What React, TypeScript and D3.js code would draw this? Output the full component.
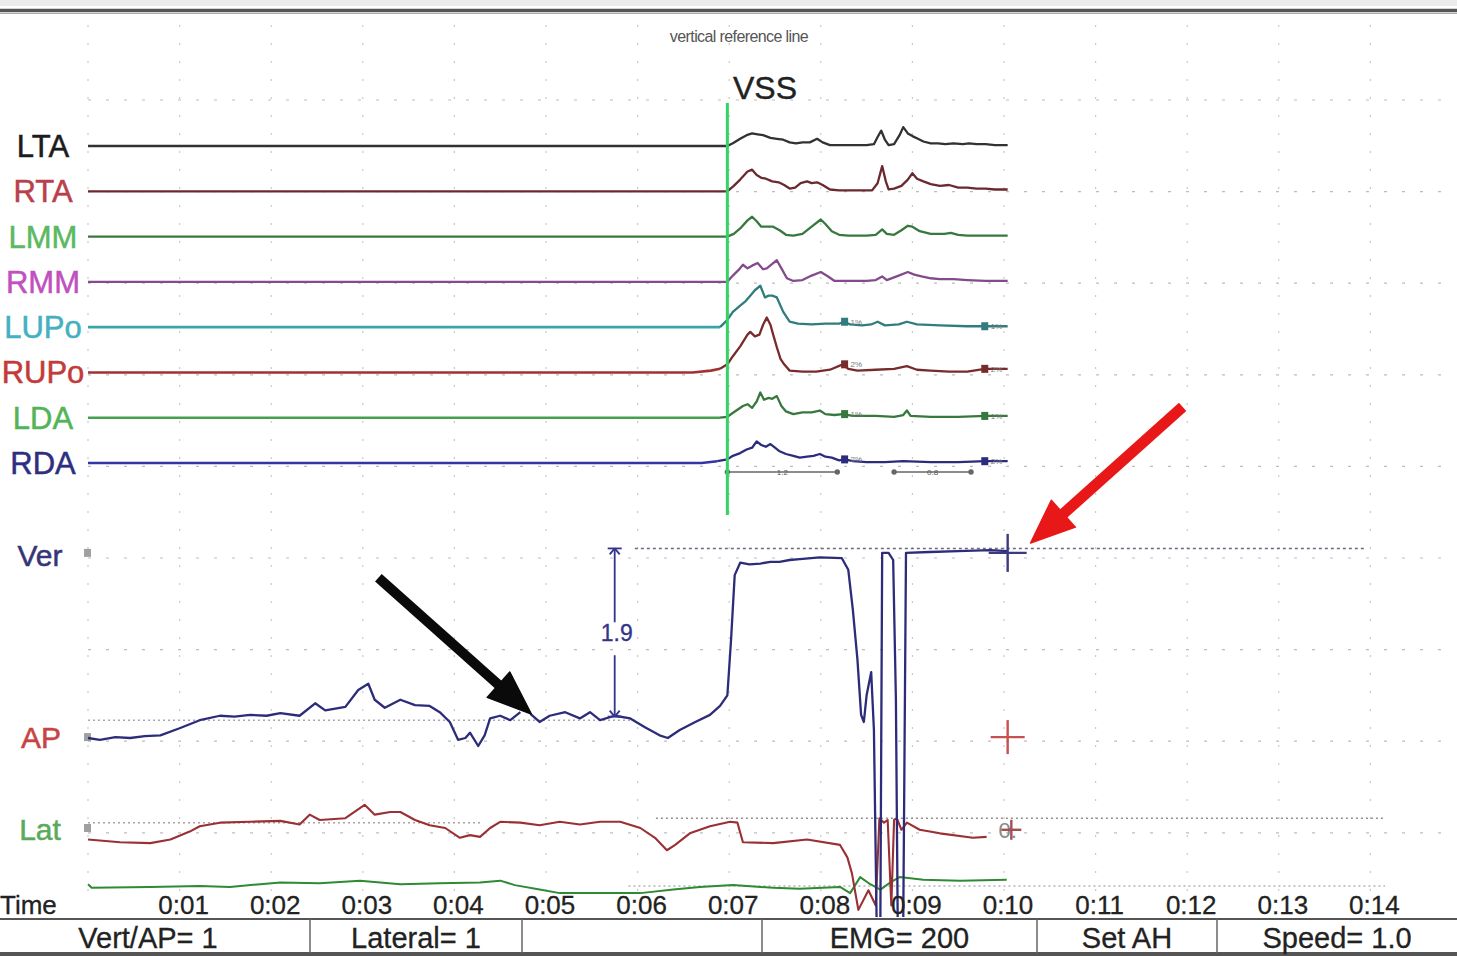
import * as d3 from 'd3';

const TIME_SECONDS = [1, 2, 3, 4, 5, 6, 7, 8, 9, 10, 11, 12, 13, 14];
const TIME_LABELS = ['0:01', '0:02', '0:03', '0:04', '0:05', '0:06', '0:07', '0:08', '0:09', '0:10', '0:11', '0:12', '0:13', '0:14'];
const VSS_T = 6.98;

const EMG_CHANNELS = ['LTA', 'RTA', 'LMM', 'RMM', 'LUPo', 'RUPo', 'LDA', 'RDA'];
const EMG_LINE_COLORS = ['#3c3c3c', '#8c3038', '#45a04e', '#b060bc', '#3aa6aa', '#a23232', '#45a04e', '#3434a6'];
const EMG_LABEL_COLORS = ['#1c1c1c', '#b8404c', '#5cb862', '#c050c0', '#44b0c2', '#c23a3a', '#52b456', '#2e2e80'];

// [seconds, amplitude] -- flat before the listed points
const LTA: [number, number][] = [[0, 0], [6.98, 0], [7.04, 3], [7.12, 8], [7.19, 12], [7.25, 14], [7.31, 13], [7.37, 12], [7.45, 9], [7.52, 8], [7.59, 7], [7.66, 4], [7.73, 3], [7.8, 4], [7.88, 4], [7.96, 8], [8.02, 4], [8.1, 1], [8.2, 1], [8.35, 1], [8.5, 1], [8.58, 2], [8.62, 10], [8.66, 17], [8.7, 7], [8.74, 1], [8.8, 2], [8.86, 12], [8.9, 21], [8.95, 14], [9.0, 11], [9.06, 8], [9.12, 5], [9.2, 3], [9.28, 3], [9.36, 2], [9.45, 3], [9.55, 2], [9.62, 3], [9.7, 2], [9.8, 2], [9.9, 1], [10.04, 1]];
const RTA: [number, number][] = [[0, 0], [6.98, 0], [7.05, 6], [7.12, 13], [7.2, 22], [7.25, 24], [7.3, 18], [7.35, 15], [7.4, 14], [7.47, 11], [7.54, 10], [7.6, 7], [7.66, 3], [7.72, 4], [7.78, 9], [7.85, 11], [7.9, 9], [7.96, 10], [8.02, 7], [8.1, 2], [8.2, 1], [8.4, 1], [8.56, 1], [8.62, 9], [8.67, 28], [8.71, 11], [8.74, 2], [8.8, 3], [8.88, 6], [8.95, 13], [9.0, 20], [9.05, 14], [9.12, 11], [9.2, 8], [9.3, 6], [9.4, 7], [9.5, 4], [9.6, 4], [9.7, 3], [9.8, 3], [9.9, 2], [10.04, 2]];
const LMM: [number, number][] = [[0, 0], [6.98, 0], [7.05, 3], [7.12, 9], [7.2, 18], [7.25, 22], [7.3, 17], [7.35, 11], [7.42, 11], [7.48, 11], [7.55, 7], [7.62, 2], [7.7, 1], [7.8, 3], [7.9, 11], [8.0, 19], [8.05, 14], [8.12, 6], [8.2, 2], [8.3, 1], [8.5, 1], [8.6, 2], [8.67, 8], [8.72, 3], [8.8, 2], [8.88, 7], [8.95, 12], [9.0, 11], [9.08, 6], [9.2, 3], [9.35, 3], [9.42, 4], [9.5, 2], [9.6, 1], [9.8, 1], [10.04, 1]];
const RMM: [number, number][] = [[0, 0], [6.98, 0], [7.04, 7], [7.1, 13], [7.15, 19], [7.2, 15], [7.25, 18], [7.31, 21], [7.37, 14], [7.41, 15], [7.47, 20], [7.52, 24], [7.57, 15], [7.63, 4], [7.7, 1], [7.8, 2], [7.9, 7], [8.0, 11], [8.08, 6], [8.15, 1], [8.3, 1], [8.5, 1], [8.6, 2], [8.67, 6], [8.72, 2], [8.85, 7], [8.95, 11], [9.02, 8], [9.1, 6], [9.2, 4], [9.3, 3], [9.45, 3], [9.6, 2], [9.8, 1], [10.04, 1]];
const LUPO: [number, number][] = [[0, 0], [6.9, 0], [6.98, 8], [7.04, 17], [7.12, 24], [7.18, 29], [7.23, 35], [7.28, 41], [7.34, 46], [7.39, 33], [7.43, 35], [7.47, 35], [7.52, 33], [7.59, 17], [7.66, 6], [7.75, 4], [7.9, 3], [8.05, 4], [8.2, 4], [8.26, 6], [8.32, 3], [8.45, 2], [8.55, 3], [8.62, 6], [8.7, 2], [8.85, 3], [8.94, 6], [9.05, 3], [9.3, 2], [9.6, 1], [9.79, 1], [10.04, 1]];
const RUPO: [number, number][] = [[0, 0], [6.6, 0], [6.8, 2], [6.9, 4], [6.98, 9], [7.04, 18], [7.12, 29], [7.2, 42], [7.23, 45], [7.28, 40], [7.33, 42], [7.37, 53], [7.41, 61], [7.45, 53], [7.48, 42], [7.52, 28], [7.56, 15], [7.6, 9], [7.66, 2], [7.8, 1], [7.95, 1], [8.1, 3], [8.24, 9], [8.3, 4], [8.4, 2], [8.6, 3], [8.8, 4], [8.94, 7], [9.05, 3], [9.2, 2], [9.4, 1], [9.6, 1], [9.79, 4], [10.04, 4]];
const LDA: [number, number][] = [[0, 0], [6.9, 0], [6.98, 1], [7.05, 6], [7.15, 13], [7.2, 15], [7.25, 11], [7.3, 18], [7.34, 28], [7.38, 20], [7.43, 22], [7.47, 21], [7.52, 24], [7.57, 13], [7.62, 7], [7.7, 4], [7.8, 6], [7.9, 6], [7.99, 8], [8.05, 4], [8.15, 3], [8.24, 4], [8.35, 2], [8.6, 2], [8.8, 1], [8.9, 3], [8.94, 8], [8.98, 2], [9.2, 1], [9.5, 1], [9.8, 2], [10.04, 2]];
const RDA: [number, number][] = [[0, 0], [6.7, 0], [6.87, 2], [6.98, 4], [7.04, 8], [7.12, 11], [7.19, 15], [7.25, 17], [7.3, 24], [7.35, 20], [7.4, 18], [7.45, 21], [7.5, 17], [7.55, 13], [7.62, 10], [7.7, 8], [7.77, 6], [7.85, 7], [7.92, 8], [7.99, 10], [8.05, 7], [8.12, 6], [8.2, 3], [8.26, 4], [8.35, 2], [8.5, 1], [8.7, 1], [8.9, 2], [9.2, 1], [9.5, 1], [9.8, 2], [10.04, 2]];
const EMG_SERIES = [LTA, RTA, LMM, RMM, LUPO, RUPO, LDA, RDA];
const EMG_MARK_T = [8.26, 9.79];
const EMG_MARKED = ['LUPo', 'RUPo', 'LDA', 'RDA'];

// force plate traces, [seconds, units]
const FORCE_VER: [number, number][] = [[0, 0], [0.13, -0.02], [0.3, 0.01], [0.46, 0], [0.62, 0.02], [0.79, 0.03], [1.0, 0.11], [1.22, 0.2], [1.44, 0.25], [1.6, 0.24], [1.77, 0.26], [1.95, 0.25], [2.1, 0.28], [2.31, 0.25], [2.48, 0.39], [2.59, 0.31], [2.81, 0.35], [2.95, 0.54], [3.06, 0.61], [3.13, 0.43], [3.24, 0.34], [3.41, 0.43], [3.57, 0.37], [3.73, 0.36], [3.84, 0.29], [3.95, 0.18], [4.04, -0.02], [4.12, 0], [4.17, 0.06], [4.26, -0.09], [4.33, 0.03], [4.39, 0.22], [4.5, 0.25], [4.61, 0.2], [4.72, 0.29], [4.77, NaN], [4.83, 0.27], [4.93, 0.18], [5.04, 0.25], [5.21, 0.29], [5.37, 0.22], [5.48, 0.29], [5.59, 0.2], [5.75, 0.25], [5.92, 0.22], [6.08, 0.12], [6.24, 0.03], [6.33, 0], [6.46, 0.09], [6.63, 0.18], [6.79, 0.26], [6.9, 0.36], [6.98, 0.48], [7.02, 1.1], [7.06, 1.83], [7.12, 1.97], [7.22, 1.95], [7.34, 1.96], [7.45, 1.98], [7.55, 1.98], [7.66, 2.0], [7.77, 2.01], [7.99, 2.03], [8.23, 2.02], [8.3, 1.89], [8.35, 1.44], [8.4, 0.88], [8.44, 0.26], [8.47, 0.18], [8.5, 0.48], [8.55, 0.74], [8.58, 0.09], [8.61, -2.1], [8.65, -2.1], [8.67, 2.08], [8.74, 2.08], [8.79, 2.0], [8.82, 0.43], [8.84, -2.1], [8.9, -2.1], [8.93, 2.08], [9.19, 2.09], [9.5, 2.1], [9.85, 2.11], [10.04, 2.1]];
const FORCE_AP: [number, number][] = [[0, -0.13], [0.35, -0.16], [0.68, -0.17], [0.9, -0.13], [1.11, -0.04], [1.22, 0.02], [1.44, 0.06], [1.77, 0.07], [2.1, 0.08], [2.31, 0.04], [2.42, 0.15], [2.53, 0.09], [2.81, 0.11], [3.02, 0.26], [3.13, 0.15], [3.3, 0.18], [3.41, 0.18], [3.57, 0.09], [3.73, 0.03], [3.9, 0], [4.06, -0.11], [4.17, -0.08], [4.28, -0.1], [4.39, 0], [4.5, 0.07], [4.72, 0.06], [4.93, 0.03], [5.15, 0.07], [5.37, 0.04], [5.59, 0.07], [5.81, 0.07], [6.03, 0], [6.19, -0.11], [6.32, -0.25], [6.41, -0.19], [6.57, -0.06], [6.79, 0.02], [7.01, 0.07], [7.09, 0.06], [7.15, -0.16], [7.48, -0.17], [7.85, -0.13], [8.21, -0.19], [8.29, -0.33], [8.34, -0.51], [8.41, -0.92], [8.52, -0.7], [8.6, -0.87], [8.64, 0.11], [8.69, 0.06], [8.73, 0.09], [8.77, -0.87], [8.8, 0.09], [8.83, 0.11], [8.88, -0.02], [8.94, 0.06], [9.08, -0.02], [9.3, -0.06], [9.66, -0.11], [9.81, -0.1]];
const FORCE_LAT: [number, number][] = [[0, 0.02], [0.04, -0.02], [0.68, -0.01], [1.22, 0], [1.55, -0.01], [1.88, 0.02], [2.1, 0.04], [2.53, 0.03], [2.97, 0.06], [3.41, 0.02], [3.84, 0.03], [4.28, 0.04], [4.5, 0.06], [4.66, 0.01], [4.93, -0.04], [5.15, -0.08], [5.59, -0.08], [6.03, -0.08], [6.39, -0.04], [6.68, -0.01], [7.04, 0.01], [7.48, -0.02], [7.77, -0.03], [8.21, -0.01], [8.32, -0.08], [8.43, 0.1], [8.54, 0.02], [8.65, -0.04], [8.76, 0.04], [8.86, 0.1], [9.12, 0.07], [9.52, 0.06], [10.03, 0.07]];

const STATUS_TEXT = ['Vert/AP= 1', 'Lateral= 1', '', 'EMG= 200', 'Set AH', 'Speed= 1.0'];
const STATUS_WIDTHS = [310, 212, 240, 275, 180, 240];

const FONT = '"Liberation Sans", Arial, sans-serif';

export default function App() {
  const W = 1457, H = 956;
  const x = d3.scaleLinear().domain([0, 14]).range([88, 88 + 14 * 91.6]);
  const row = d3.scalePoint<string>().domain(EMG_CHANNELS).range([146, 463]);
  const amp = d3.scaleLinear().domain([0, 50]).range([0, 45]);
  const verY = d3.scaleLinear().domain([0, 1]).range([738, 649]);
  const apY = d3.scaleLinear().domain([0, 1]).range([828, 739]);
  const latY = d3.scaleLinear().domain([0, 1]).range([886, 797]);

  const emgLine = (base: number) => d3.line<[number, number]>()
    .x(d => x(d[0])).y(d => base - amp(d[1]));
  const forceLine = (sy: d3.ScaleLinear<number, number>) => d3.line<[number, number]>()
    .defined(d => !isNaN(d[1])).x(d => x(d[0])).y(d => sy(d[1]));

  const gridX = d3.range(0, 15);
  const gridY = d3.range(0, 9).map(k => 100 + k * 91.6);

  const arrow = (x1: number, y1: number, x2: number, y2: number, color: string, w: number, hl: number, hw: number) => {
    const a = Math.atan2(y2 - y1, x2 - x1);
    const bx = x2 - hl * Math.cos(a), by = y2 - hl * Math.sin(a);
    const px = -Math.sin(a), py = Math.cos(a);
    const pts = [[x2, y2], [bx + px * hw, by + py * hw], [bx - px * hw, by - py * hw]].map(p => p.join(',')).join(' ');
    return (
      <g>
        <line x1={x1} y1={y1} x2={bx + 3 * Math.cos(a)} y2={by + 3 * Math.sin(a)} stroke={color} strokeWidth={w} />
        <polygon points={pts} fill={color} stroke={color} strokeWidth={1.5} strokeLinejoin="round" />
      </g>
    );
  };

  const cross = (cx: number, cy: number, color: string, r: number) => (
    <g stroke={color} strokeWidth={2.4}>
      <line x1={cx - r} y1={cy} x2={cx + r} y2={cy} />
      <line x1={cx} y1={cy - r} x2={cx} y2={cy + r} />
    </g>
  );

  let cellX = 0;
  const cells = STATUS_WIDTHS.map((w, i) => { const c = { x0: cellX, w, text: STATUS_TEXT[i] }; cellX += w; return c; });

  const dimX = x(5.75);
  const dark = (c: string) => d3.interpolateRgb(c, '#1a1a1a')(0.3);

  return (
    <svg width={W} height={H} style={{ position: 'absolute', left: 0, top: 0, background: '#fff', fontFamily: FONT }}>
      <rect x={0} y={0} width={W} height={H} fill="#fff" />
      {/* top frame */}
      <rect x={0} y={0} width={W} height={6} fill="#ececec" />
      <line x1={0} x2={W} y1={10.5} y2={10.5} stroke="#555" strokeWidth={3.5} />
      <line x1={0} x2={W} y1={13.5} y2={13.5} stroke="#aaa" strokeWidth={1} />

      {/* faint grid */}
      <g stroke="#c9c9c9" strokeWidth={1.2}>
        {gridX.map(t => <line key={'gx' + t} x1={x(t)} x2={x(t)} y1={25} y2={892} strokeDasharray="2,16" />)}
        {gridY.map((y, i) => <line key={'gy' + i} x1={88} x2={1445} y1={y} y2={y} strokeDasharray="3,15" stroke="#bdbdbd" />)}
      </g>

      <text x={739} y={42} fontSize={16} fill="#555" textAnchor="middle" letterSpacing={-0.6}>vertical reference line</text>
      <text x={733} y={99} fontSize={32} fill="#222" stroke="#222" strokeWidth={0.4}>VSS</text>

      {/* EMG traces */}
      {EMG_CHANNELS.map((ch, i) => {
        const base = row(ch)!;
        const s = EMG_SERIES[i];
        const before = s.filter(d => d[0] <= VSS_T - 0.08);
        const after = s.filter(d => d[0] >= before[before.length - 1][0]);
        return (
          <g key={ch}>
            <text x={43} y={base + 11} fontSize={31} fill={EMG_LABEL_COLORS[i]} textAnchor="middle"
              stroke={EMG_LABEL_COLORS[i]} strokeWidth={0.5}>{ch}</text>
            <path d={emgLine(base)(before) ?? ''} fill="none" stroke={EMG_LINE_COLORS[i]}
              strokeWidth={i === 3 ? 3.2 : 2.6} />
            <path d={emgLine(base)(after) ?? ''} fill="none" stroke={dark(EMG_LINE_COLORS[i])}
              strokeWidth={2.3} strokeLinejoin="round" />
          </g>
        );
      })}
      {EMG_MARKED.map((ch, i) => {
        const base = row(ch)!;
        const ci = EMG_CHANNELS.indexOf(ch);
        const series = EMG_SERIES[ci];
        return EMG_MARK_T.map(t => {
          const near = series.reduce((a, b) => Math.abs(b[0] - t) < Math.abs(a[0] - t) ? b : a);
          const cy = base - amp(near[1]);
          return (
            <g key={ch + t}>
              <rect x={x(t) - 3.5} y={cy - 4} width={7} height={8} fill={dark(EMG_LINE_COLORS[ci])} />
              <text x={x(t) + 6} y={cy + 3} fontSize={8} fill="#777">{i % 2 ? '2%' : '1%'}</text>
            </g>
          );
        });
      })}
      {/* small duration bars under RDA */}
      <g stroke="#666" strokeWidth={1.4} fill="#666">
        <line x1={x(VSS_T)} x2={x(8.18)} y1={row('RDA')! + 9} y2={row('RDA')! + 9} />
        <line x1={x(8.8)} x2={x(9.64)} y1={row('RDA')! + 9} y2={row('RDA')! + 9} />
        {[VSS_T, 8.18, 8.8, 9.64].map(t => <circle key={t} cx={x(t)} cy={row('RDA')! + 9} r={2} />)}
      </g>
      <text x={x(7.58)} y={row('RDA')! + 12} fontSize={8} fill="#555" textAnchor="middle">1.2</text>
      <text x={x(9.22)} y={row('RDA')! + 12} fontSize={8} fill="#555" textAnchor="middle">0.8</text>

      {/* VSS reference line */}
      <line x1={x(VSS_T)} x2={x(VSS_T)} y1={103} y2={515} stroke="#33d364" strokeWidth={3} />

      {/* force plate section */}
      <text x={40} y={566} fontSize={30} fill="#363676" textAnchor="middle" stroke="#363676" strokeWidth={0.5}>Ver</text>
      <text x={41} y={748} fontSize={30} fill="#c84444" textAnchor="middle" stroke="#c84444" strokeWidth={0.5}>AP</text>
      <text x={40} y={840} fontSize={30} fill="#5aaa5a" textAnchor="middle" stroke="#5aaa5a" strokeWidth={0.5}>Lat</text>
      <rect x={x(0) - 4} y={verY(2.08) - 4} width={7} height={8} fill="#a0a0a0" />
      <rect x={x(0) - 4} y={verY(0.01) - 4} width={7} height={8} fill="#a0a0a0" />
      <rect x={x(0) - 4} y={apY(0) - 4} width={7} height={8} fill="#a0a0a0" />

      {/* reference dotted lines */}
      <g fill="none" strokeWidth={1.5}>
        <line x1={x(5.97)} x2={x(13.94)} y1={verY(2.13)} y2={verY(2.13)} stroke="#6a6a80" strokeDasharray="3,3" />
        <line x1={x(0)} x2={x(6.0)} y1={verY(0.2)} y2={verY(0.2)} stroke="#a8a8b8" strokeDasharray="2,3" />
        <line x1={x(0)} x2={x(4.3)} y1={apY(0.06)} y2={apY(0.06)} stroke="#b0a0a0" strokeDasharray="2,3" />
        <line x1={x(6.2)} x2={x(14.16)} y1={apY(0.11)} y2={apY(0.11)} stroke="#909090" strokeDasharray="2,3" />
        <line x1={x(5.9)} x2={x(14.16)} y1={latY(0)} y2={latY(0)} stroke="#b4b4b4" strokeDasharray="2,3" />
      </g>

      <defs>
        <clipPath id="forceClip"><rect x={0} y={515} width={W} height={402} /></clipPath>
      </defs>
      <g clipPath="url(#forceClip)" fill="none" strokeLinejoin="round">
        <path d={forceLine(latY)(FORCE_LAT) ?? ''} stroke="#2f8a34" strokeWidth={2} />
        <path d={forceLine(apY)(FORCE_AP) ?? ''} stroke="#9a3034" strokeWidth={2.1} />
        <path d={forceLine(verY)(FORCE_VER) ?? ''} stroke="#2c2c7a" strokeWidth={2.3} />
      </g>

      {/* 1.9 dimension */}
      <g stroke="#34348a" strokeWidth={1.8}>
        <line x1={dimX} x2={dimX} y1={verY(2.13)} y2={verY(1.3)} />
        <line x1={dimX} x2={dimX} y1={verY(0.93)} y2={verY(0.24)} />
        <line x1={dimX - 7} x2={dimX + 7} y1={verY(2.13)} y2={verY(2.13)} />
        <line x1={dimX - 5} x2={dimX} y1={verY(2.13) + 6} y2={verY(2.13)} />
        <line x1={dimX + 5} x2={dimX} y1={verY(2.13) + 6} y2={verY(2.13)} />
        <line x1={dimX - 7} x2={dimX + 7} y1={verY(0.24)} y2={verY(0.24)} />
        <line x1={dimX - 5} x2={dimX} y1={verY(0.24) - 6} y2={verY(0.24)} />
        <line x1={dimX + 5} x2={dimX} y1={verY(0.24) - 6} y2={verY(0.24)} />
      </g>
      <text x={dimX + 2} y={verY(1.18) + 8} fontSize={23} fill="#34348a" textAnchor="middle" stroke="#34348a" strokeWidth={0.3}>1.9</text>

      {/* cursor crosses */}
      {cross(x(10.04), verY(2.08), '#3a3a80', 19)}
      {cross(x(10.04), verY(0.01), '#c85050', 17)}
      <text x={x(9.94)} y={apY(-0.02) + 8} fontSize={22} fill="#888">0.</text>
      {cross(x(10.08), apY(-0.02), '#a05050', 10)}

      {/* annotation arrows */}
      {arrow(x(3.17), verY(1.80), x(4.84), verY(0.27), '#0a0a0a', 10, 44, 17)}
      {arrow(x(11.95), verY(3.72), x(10.29), verY(2.19), '#e81818', 11, 44, 18)}

      {/* time axis */}
      <text x={0} y={914} fontSize={26} fill="#222" stroke="#222" strokeWidth={0.3}>Time</text>
      {TIME_SECONDS.map((t, i) => (
        <text key={t} x={x(t) + 4} y={914} fontSize={26} fill="#222" textAnchor="middle" stroke="#222" strokeWidth={0.3}>{TIME_LABELS[i]}</text>
      ))}

      {/* status bar */}
      <rect x={0} y={919} width={W} height={37} fill="#fff" />
      <line x1={0} x2={W} y1={919} y2={919} stroke="#555" strokeWidth={2} />
      <line x1={0} x2={W} y1={954} y2={954} stroke="#555" strokeWidth={4} />
      {cells.map((c, i) => (
        <g key={i}>
          {i > 0 && <line x1={c.x0} x2={c.x0} y1={919} y2={953} stroke="#666" strokeWidth={1.5} />}
          <text x={c.x0 + c.w / 2 - (i === 0 ? 7 : 0)} y={948} fontSize={29} fill="#222" textAnchor="middle"
            stroke="#222" strokeWidth={0.3}>{c.text}</text>
        </g>
      ))}
    </svg>
  );
}
